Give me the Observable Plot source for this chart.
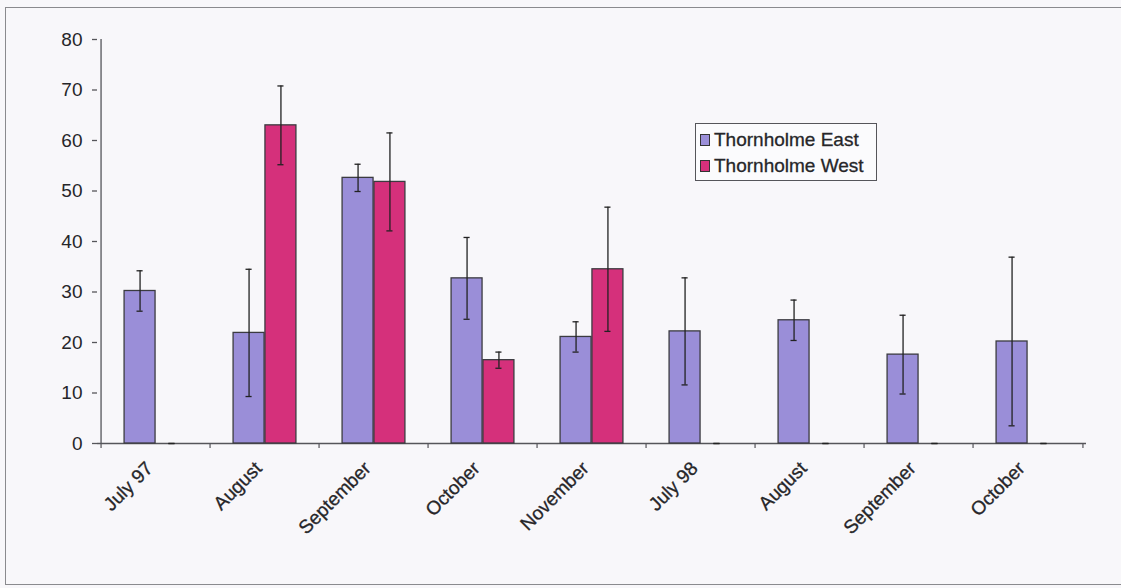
<!DOCTYPE html>
<html>
<head>
<meta charset="utf-8">
<script src="https://cdn.jsdelivr.net/npm/d3@7"></script>
<script src="https://cdn.jsdelivr.net/npm/@observablehq/plot@0.6"></script>
<style>
  html, body { margin: 0; padding: 0; background: #f8f7fa; }
  #wrap { position: relative; width: 1121px; height: 588px; overflow: hidden; font-family: "Liberation Sans", Arial, sans-serif; }
  #border { position: absolute; left: 5px; top: 7px; width: 1130px; height: 578px; border: 1.5px solid #8a8a8e; box-sizing: border-box; }
  #legend { position: absolute; left: 695px; top: 123px; width: 182px; height: 58px; border: 1px solid #55555a; background: #fbfbfd; box-sizing: border-box; padding: 3px 0 0 4px; }
  .item { display: flex; align-items: center; height: 26px; font-size: 19px; color: #262629; -webkit-text-stroke: 0.3px #262629; }
  .sw { width: 10px; height: 12px; border: 1px solid #333; margin-right: 4px; box-sizing: border-box; }
  svg { position: absolute; left: 0; top: 0; }
</style>
</head>
<body>
<div id="wrap">
  <div id="border"></div>
  <div id="chart"></div>
  <div id="legend"></div>
</div>
<script>
// ---- data ----
const categories = ["July 97", "August", "September", "October", "November", "July 98", "August", "September", "October"];
const seriesNames = ["Thornholme East", "Thornholme West"];
const eastValues = [30.2, 21.9, 52.6, 32.7, 21.1, 22.2, 24.4, 17.6, 20.2];
const eastErrors = [4.0, 12.6, 2.7, 8.1, 3.0, 10.6, 4.0, 7.8, 16.7];
const westValues = [0, 63.0, 51.8, 16.5, 34.5, 0, 0, 0, 0];
const westErrors = [0, 7.8, 9.7, 1.6, 12.3, 0, 0, 0, 0];
const yTicks = [0, 10, 20, 30, 40, 50, 60, 70, 80];
const colors = ["#9a8ed8", "#d5307b"];

// ---- layout ----
const W = 1121, H = 588;
const mL = 97, mR = 35, mT = 39, mB = 145;
const step = (W - mL - mR) / categories.length;
const bw = step * 0.29;       // bar width
const cap = 7;                // error cap width
const plotH = H - mT - mB;
const ink = "#262629";

const idx = d3.range(categories.length);
const east = idx.map(i => ({i, v: eastValues[i], e: eastErrors[i]}));
const west = idx.map(i => ({i, v: westValues[i], e: westErrors[i]}));

function seriesMarks(data, color, side) {
  const inL = side < 0 ? step / 2 - bw : step / 2;
  const inR = side < 0 ? step / 2 : step / 2 - bw;
  const cL = step / 2 + side * bw / 2 - cap / 2;
  const cR = step / 2 - side * bw / 2 - cap / 2;
  return [
    Plot.barY(data, {x: "i", y: "v", fill: color, stroke: "#3b3b40", strokeWidth: 1.3, insetLeft: inL, insetRight: inR}),
    Plot.ruleX(data.filter(d => d.e > 0), {x: "i", y1: d => d.v - d.e, y2: d => d.v + d.e, dx: side * bw / 2, stroke: "#222", strokeWidth: 1.3}),
    Plot.tickY(data, {x: "i", y: d => d.v + d.e, insetLeft: cL, insetRight: cR, stroke: "#222", strokeWidth: 1.3}),
    Plot.tickY(data, {x: "i", y: d => d.v - d.e, insetLeft: cL, insetRight: cR, stroke: "#222", strokeWidth: 1.3})
  ];
}

const chart = Plot.plot({
  width: W, height: H,
  marginLeft: mL, marginRight: mR, marginTop: mT, marginBottom: mB,
  style: {background: "transparent", fontFamily: "Liberation Sans, Arial, sans-serif", color: ink},
  x: {type: "band", domain: idx, paddingInner: 0, paddingOuter: 0, axis: null},
  y: {domain: [0, 80], axis: null},
  marks: [
    Plot.ruleX([0], {x: d => d, dx: -step / 2, y1: 0, y2: 80, stroke: "#55555a", strokeWidth: 1.3}),
    Plot.axisY({ticks: yTicks, label: null, tickSize: 5, tickPadding: 10, fontSize: 19, stroke: "#55555a", strokeWidth: 1.3, fill: ink}),
    Plot.ruleY([0], {stroke: "#55555a", strokeWidth: 1.3}),
    Plot.tickX(idx, {x: d => d, dx: -step / 2, insetTop: plotH, insetBottom: -5, stroke: "#55555a", strokeWidth: 1.2}),
    Plot.tickX([idx[idx.length - 1]], {x: d => d, dx: step / 2, insetTop: plotH, insetBottom: -5, stroke: "#55555a", strokeWidth: 1.2}),
    ...seriesMarks(east, colors[0], -1),
    ...seriesMarks(west, colors[1], 1),
    Plot.text(idx, {x: d => d, frameAnchor: "bottom", text: d => categories[d], rotate: -45, textAnchor: "end", dx: -2, dy: 26, fontSize: 19, fill: ink, stroke: ink, strokeWidth: 0.3})
  ]
});
document.getElementById("chart").appendChild(chart);

const legend = document.getElementById("legend");
seriesNames.forEach((name, k) => {
  const item = document.createElement("div");
  item.className = "item";
  const sw = document.createElement("span");
  sw.className = "sw";
  sw.style.background = colors[k];
  const t = document.createElement("span");
  t.textContent = name;
  item.appendChild(sw);
  item.appendChild(t);
  legend.appendChild(item);
});
</script>
</body>
</html>
